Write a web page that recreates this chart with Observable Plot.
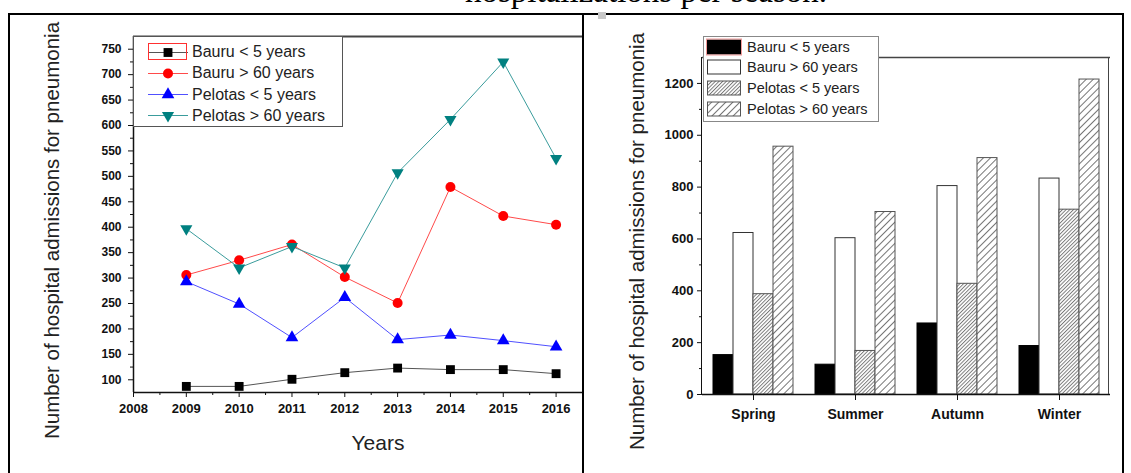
<!DOCTYPE html>
<html><head><meta charset="utf-8">
<script src="https://cdn.jsdelivr.net/npm/d3@7"></script>
<script src="https://cdn.jsdelivr.net/npm/@observablehq/plot@0.6"></script>
<style>
body{margin:0;background:#fff;font-family:"Liberation Sans",Arial,sans-serif;}
#page{position:relative;width:1131px;height:473px;overflow:hidden;background:#fff;}
.abs{position:absolute;}
.legend{position:absolute;background:#fff;box-sizing:border-box;}
.row{position:absolute;display:flex;align-items:center;white-space:nowrap;}
</style></head><body>
<div id="page"></div>
<script>
// ---------- data: left panel (per year) ----------
const years = [2009, 2010, 2011, 2012, 2013, 2014, 2015, 2016];
const bauruUnder5   = [87, 87, 101, 114, 123, 120, 120, 112];
const bauruOver60   = [306, 335, 366, 302, 251, 479, 422, 405];
const pelotasUnder5 = [293, 249, 183, 262, 179, 188, 177, 165];
const pelotasOver60 = [397, 320, 362, 320, 507, 612, 725, 535];
const seriesNames = ["Bauru < 5 years", "Bauru > 60 years", "Pelotas < 5 years", "Pelotas > 60 years"];
const yearTicks = [2008, 2009, 2010, 2011, 2012, 2013, 2014, 2015, 2016];
const yearMinorTicks = [2008.5, 2009.5, 2010.5, 2011.5, 2012.5, 2013.5, 2014.5, 2015.5];
const leftYTicks = [100, 150, 200, 250, 300, 350, 400, 450, 500, 550, 600, 650, 700, 750];
const leftYMinor = [125, 175, 225, 275, 325, 375, 425, 475, 525, 575, 625, 675, 725];
const leftXDomain = [2008, 2016.5];
const leftYDomain = [75, 775];

// ---------- data: right panel (per season) ----------
const seasons = ["Spring", "Summer", "Autumn", "Winter"];
const seasonBauruUnder5   = [152, 115, 274, 187];
const seasonBauruOver60   = [623, 603, 804, 833];
const seasonPelotasUnder5 = [387, 168, 427, 713];
const seasonPelotasOver60 = [956, 704, 912, 1215];
const rightYTicks = [0, 200, 400, 600, 800, 1000, 1200];
const rightYMinor = [100, 300, 500, 700, 900, 1100];
const rightYDomain = [0, 1300];

const yTitle = "Number of hospital admissions for pneumonia";
const xTitle = "Years";
const headerText = "hospitalizations per season.";

// ---------- tables ----------
const leftSeries = [bauruUnder5, bauruOver60, pelotasUnder5, pelotasOver60];
const lineData = seriesNames.flatMap((s, i) => years.map((yr, j) => ({series: s, year: yr, value: leftSeries[i][j]})));
const rightSeries = [seasonBauruUnder5, seasonBauruOver60, seasonPelotasUnder5, seasonPelotasOver60];
const barData = seriesNames.flatMap((s, i) => seasons.map((se, j) => ({series: s, season: se, value: rightSeries[i][j]})));

// ---------- styles ----------
const markColors = ["#000000", "#ff0000", "#0000ff", "#008080"];
const lineColors = ["#555555", "#ff4a4a", "#5050ff", "#3a9c9c"];
const triangleDown = {draw(ctx, size) {
  const y = -Math.sqrt(size / (Math.sqrt(3) * 3));
  ctx.moveTo(0, -y * 2); ctx.lineTo(-Math.sqrt(3) * y, y); ctx.lineTo(Math.sqrt(3) * y, y); ctx.closePath();
}};
const plotSymbols = ["square", "circle", "triangle", triangleDown];
const d3Symbols = [d3.symbolSquare, d3.symbolCircle, d3.symbolTriangle, triangleDown];
const radii = [5, 5, 4.7, 4.5];
const barFills = ["#000000", "#ffffff", "url(#hatchDense)", "url(#hatchSparse)"];
const barStrokes = ["#000000", "#333333", "#555555", "#555555"];
const font = '"Liberation Sans", Arial, Helvetica, sans-serif';

const page = document.getElementById("page");
function add(tag, css, parent = page) { const el = document.createElement(tag); el.className = "abs"; Object.assign(el.style, css); parent.appendChild(el); return el; }

// hatch patterns
const defs = document.createElementNS("http://www.w3.org/2000/svg", "svg");
defs.setAttribute("width", 0); defs.setAttribute("height", 0); defs.style.position = "absolute";
defs.innerHTML = `<defs>
<pattern id="hatchDense" patternUnits="userSpaceOnUse" width="2.6" height="2.6" patternTransform="rotate(45)">
<rect width="2.6" height="2.6" fill="#ffffff"/><line x1="0.5" y1="0" x2="0.5" y2="2.6" stroke="#707070" stroke-width="0.9"/></pattern>
<pattern id="hatchSparse" patternUnits="userSpaceOnUse" width="5" height="5" patternTransform="rotate(45)">
<rect width="5" height="5" fill="#ffffff"/><line x1="0.5" y1="0" x2="0.5" y2="5" stroke="#666666" stroke-width="0.9"/></pattern>
</defs>`;
page.appendChild(defs);

// ---------- header & table lines ----------
add("div", {left: "465px", top: "-25px", font: '33px "Liberation Serif", "Times New Roman", serif', lineHeight: "33px", whiteSpace: "nowrap", color: "#000"}).textContent = headerText;
add("div", {left: "8px", top: "13px", width: "1116px", height: "2px", background: "#000"});
add("div", {left: "8px", top: "13px", width: "2px", height: "470px", background: "#000"});
add("div", {left: "582px", top: "13px", width: "2px", height: "470px", background: "#000"});
add("div", {left: "1122px", top: "13px", width: "2px", height: "470px", background: "#000"});
add("div", {left: "598px", top: "12px", width: "8px", height: "7px", background: "#c8c8c8"});

// ---------- left chart ----------
const L = {width: 582, height: 473, marginLeft: 133, marginRight: 0, marginTop: 36, marginBottom: 81};
const leftPlot = Plot.plot({
  ...L,
  x: {domain: leftXDomain, axis: null},
  y: {domain: leftYDomain, axis: null},
  style: {fontFamily: font, background: "transparent", color: "#111"},
  marks: [
    Plot.ruleY([leftYDomain[1]], {stroke: "#444", strokeWidth: 2}),
    ...seriesNames.map((s, i) => Plot.line(lineData.filter(d => d.series === s), {x: "year", y: "value", stroke: lineColors[i], strokeWidth: 1})),
    ...seriesNames.map((s, i) => Plot.dot(lineData.filter(d => d.series === s), {x: "year", y: "value", symbol: plotSymbols[i], r: radii[i], fill: markColors[i], stroke: "none"})),
    Plot.ruleX([leftXDomain[0]], {stroke: "#111", strokeWidth: 1.5}),
    Plot.ruleY([leftYDomain[0]], {stroke: "#111", strokeWidth: 1.5}),
    Plot.axisX({ticks: yearTicks, tickFormat: d => String(d), tickSize: 5, tickPadding: 6, fontSize: 13, fontWeight: "bold", label: null}),
    Plot.axisX({ticks: yearMinorTicks, tickSize: 3, tickFormat: () => "", label: null}),
    Plot.axisY({ticks: leftYTicks, tickSize: 5, tickPadding: 7, fontSize: 12, fontWeight: "bold", label: null}),
    Plot.axisY({ticks: leftYMinor, tickSize: 3, tickFormat: () => "", label: null}),
    Plot.text([xTitle], {frameAnchor: "bottom", textAnchor: "middle", lineAnchor: "middle", dx: 20, dy: 51, fontSize: 21, fill: "#222"}),
    Plot.text([yTitle], {frameAnchor: "left", textAnchor: "middle", lineAnchor: "middle", dx: -81, dy: 16, rotate: -90, fontSize: 20.5, fill: "#222"})
  ]
});
const leftWrap = add("div", {left: "0px", top: "0px", width: L.width + "px", height: L.height + "px", overflow: "hidden"});
leftWrap.appendChild(leftPlot);

// ---------- right chart ----------
const R = {width: 540, height: 473, marginLeft: 119, marginRight: 13, marginTop: 57, marginBottom: 79};
const rightPlot = Plot.plot({
  ...R,
  fx: {domain: seasons, padding: 0, label: null},
  x: {domain: seriesNames, paddingInner: 0, paddingOuter: 0.46, axis: null},
  y: {domain: rightYDomain, axis: null},
  style: {fontFamily: font, background: "transparent", color: "#111"},
  marks: [
    ...seriesNames.map((s, i) => Plot.barY(barData.filter(d => d.series === s), {fx: "season", x: "series", y: "value", fill: barFills[i], stroke: barStrokes[i], strokeWidth: 1})),
    Plot.ruleY([rightYDomain[0]], {stroke: "#111", strokeWidth: 1.5}),
    Plot.ruleY([rightYDomain[1]], {stroke: "#444", strokeWidth: 1.5}),
    Plot.axisY({ticks: rightYTicks, tickFormat: d => String(d), tickSize: 5, tickPadding: 4, fontSize: 13, fontWeight: "bold", label: null}),
    Plot.axisY({ticks: rightYMinor, tickSize: 3, tickFormat: () => "", label: null}),
    Plot.text([yTitle], {fx: () => seasons[0], frameAnchor: "left", textAnchor: "middle", lineAnchor: "middle", dx: -65, dy: 15.5, rotate: -90, fontSize: 20.5, fill: "#222"}),
    Plot.axisFx({anchor: "bottom", tickSize: 6, tickPadding: 9, fontSize: 14, fontWeight: "bold", label: null})
  ]
});
const rightWrap = add("div", {left: "583px", top: "0px", width: R.width + "px", height: R.height + "px", overflow: "hidden"});
rightWrap.appendChild(rightPlot);
// frame sides (left axis line and right edge)
add("div", {left: (583 + R.marginLeft - 0.75) + "px", top: R.marginTop + "px", width: (R.width - R.marginLeft - R.marginRight) + "px",
  height: (R.height - R.marginTop - R.marginBottom) + "px", borderLeft: "1.5px solid #111", borderRight: "1.5px solid #444", boxSizing: "border-box", pointerEvents: "none"});

// ---------- legends ----------
function svgEl(w, h, inner) { return `<svg width="${w}" height="${h}" style="display:block">${inner}</svg>`; }
const leftLegend = add("div", {left: "133px", top: "36px", width: "210px", height: "91px", border: "1px solid #555", background: "#fff", boxSizing: "border-box"});
leftLegend.className = "legend";
seriesNames.forEach((name, i) => {
  const row = document.createElement("div"); row.className = "row";
  Object.assign(row.style, {left: "13px", top: (4.5 + i * 21.3) + "px", height: "21px"});
  const sym = d3.symbol(d3Symbols[i], Math.PI * radii[i] * radii[i])();
  row.innerHTML = svgEl(42, 21, `<line x1="1" x2="41" y1="10.5" y2="10.5" stroke="${lineColors[i]}" stroke-width="1"/><path transform="translate(21,10.5)" d="${sym}" fill="${markColors[i]}"/>`);
  const t = document.createElement("span"); t.textContent = name;
  Object.assign(t.style, {marginLeft: "3px", fontSize: "16px", color: "#222", fontFamily: font});
  row.appendChild(t); leftLegend.appendChild(row);
});
add("div", {left: "14px", top: "6px", width: "39px", height: "17px", border: "1px solid #ff3030", boxSizing: "border-box"}, leftLegend);

const rightLegend = add("div", {left: "703px", top: "36px", width: "176px", height: "86px", border: "1px solid #888", background: "#fff", boxSizing: "border-box"});
rightLegend.className = "legend";
seriesNames.forEach((name, i) => {
  const row = document.createElement("div"); row.className = "row";
  Object.assign(row.style, {left: "2px", top: (0.5 + i * 20.7) + "px", height: "18px"});
  const extra = i === 0 ? `<rect x="0.5" y="1" width="35" height="16" fill="none" stroke="#f29a9a" stroke-width="1"/>` : "";
  row.innerHTML = svgEl(36, 18, `<rect x="1.5" y="2" width="33" height="14" fill="${barFills[i]}" stroke="${barStrokes[i]}" stroke-width="1"/>${extra}`);
  const t = document.createElement("span"); t.textContent = name;
  Object.assign(t.style, {marginLeft: "5px", fontSize: "14.5px", color: "#222", fontFamily: font});
  row.appendChild(t); rightLegend.appendChild(row);
});
</script>
</body></html>
